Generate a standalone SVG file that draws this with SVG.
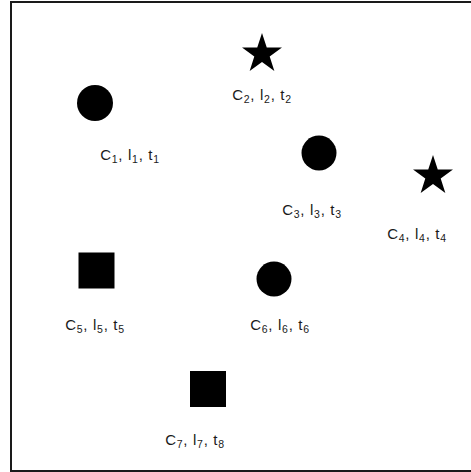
<svg xmlns="http://www.w3.org/2000/svg" width="471" height="472" viewBox="0 0 471 472">
<style>
.shape{fill:#000;stroke:none}
.lbl{font-family:"Liberation Sans",Arial,sans-serif;font-size:15px;letter-spacing:0.7px;fill:#1a1a1a;text-anchor:middle}
.sub{font-size:10.5px}
</style>
<defs>
<polygon id="star" points="0,-21 4.76,-6.55 19.97,-6.49 7.70,2.50 12.34,16.99 0,8.1 -12.34,16.99 -7.70,2.50 -19.97,-6.49 -4.76,-6.55"/>
</defs>
<rect x="11" y="2" width="464" height="469" fill="#fff" stroke="#1a1a1a" stroke-width="2"/>
<g id="connectors"/>
<g id="n1">
<circle class="shape" cx="95" cy="103" r="18"/>
<text class="lbl" x="130" y="160">C<tspan class="sub" dy="3">1</tspan><tspan dy="-3">, l</tspan><tspan class="sub" dy="3">1</tspan><tspan dy="-3">, t</tspan><tspan class="sub" dy="3">1</tspan></text>
</g>
<g id="n2">
<use href="#star" class="shape" x="262" y="54"/>
<text class="lbl" x="262" y="100">C<tspan class="sub" dy="3">2</tspan><tspan dy="-3">, l</tspan><tspan class="sub" dy="3">2</tspan><tspan dy="-3">, t</tspan><tspan class="sub" dy="3">2</tspan></text>
</g>
<g id="n3">
<circle class="shape" cx="319" cy="153" r="17.5"/>
<text class="lbl" x="312" y="215">C<tspan class="sub" dy="3">3</tspan><tspan dy="-3">, l</tspan><tspan class="sub" dy="3">3</tspan><tspan dy="-3">, t</tspan><tspan class="sub" dy="3">3</tspan></text>
</g>
<g id="n4">
<use href="#star" class="shape" x="433" y="176"/>
<text class="lbl" x="417" y="239">C<tspan class="sub" dy="3">4</tspan><tspan dy="-3">, l</tspan><tspan class="sub" dy="3">4</tspan><tspan dy="-3">, t</tspan><tspan class="sub" dy="3">4</tspan></text>
</g>
<g id="n5">
<rect class="shape" x="78.5" y="252.5" width="36" height="36"/>
<text class="lbl" x="95" y="330">C<tspan class="sub" dy="3">5</tspan><tspan dy="-3">, l</tspan><tspan class="sub" dy="3">5</tspan><tspan dy="-3">, t</tspan><tspan class="sub" dy="3">5</tspan></text>
</g>
<g id="n6">
<circle class="shape" cx="274" cy="279" r="17.5"/>
<text class="lbl" x="280" y="330">C<tspan class="sub" dy="3">6</tspan><tspan dy="-3">, l</tspan><tspan class="sub" dy="3">6</tspan><tspan dy="-3">, t</tspan><tspan class="sub" dy="3">6</tspan></text>
</g>
<g id="n7">
<rect class="shape" x="190" y="371" width="36" height="36"/>
<text class="lbl" x="195" y="445">C<tspan class="sub" dy="3">7</tspan><tspan dy="-3">, l</tspan><tspan class="sub" dy="3">7</tspan><tspan dy="-3">, t</tspan><tspan class="sub" dy="3">8</tspan></text>
</g>
</svg>
